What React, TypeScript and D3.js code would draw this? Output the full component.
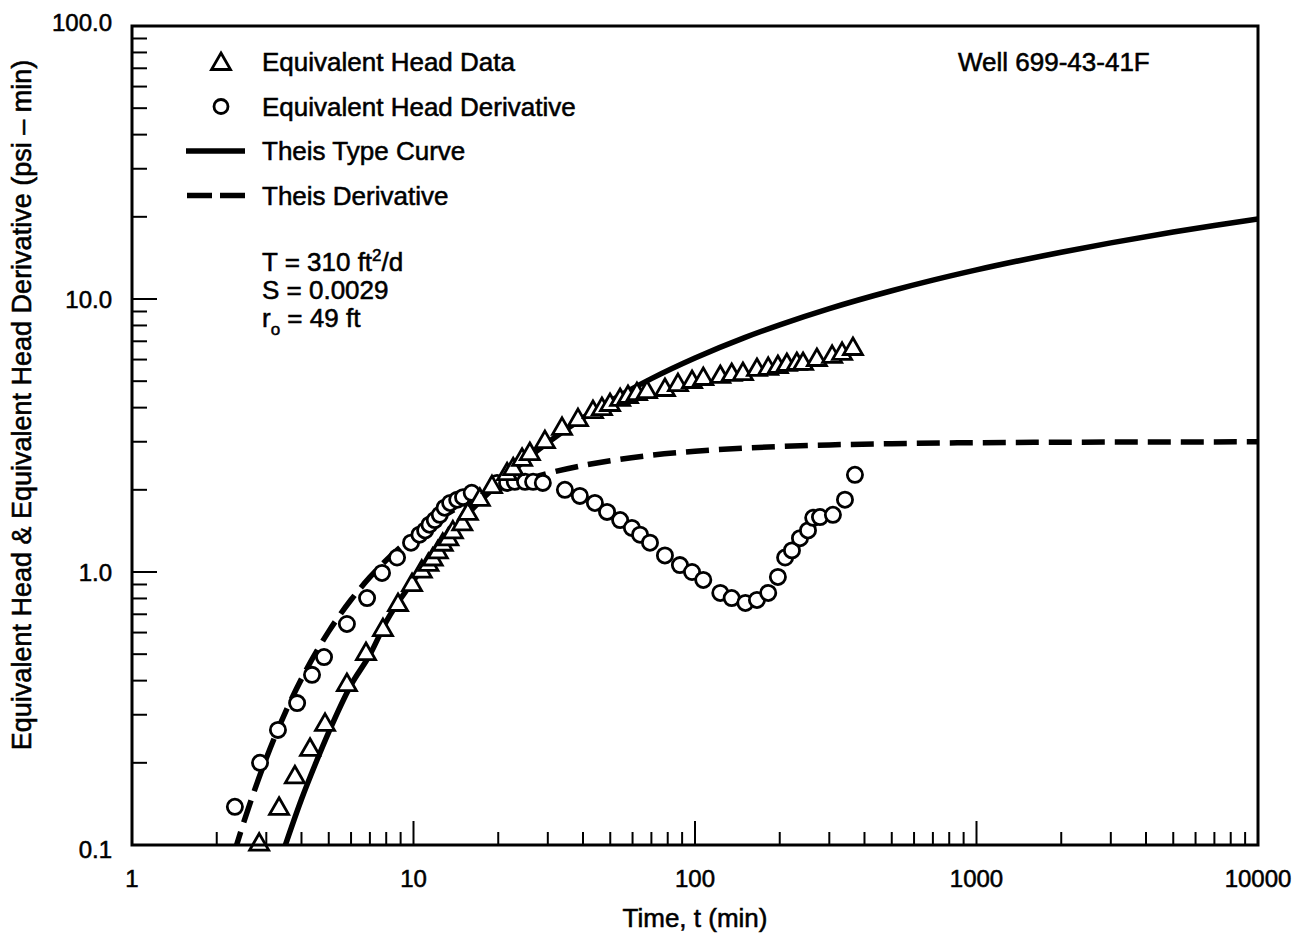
import React from 'react';
import * as d3 from 'd3';

// Canvas and plot frame
const WIDTH = 1309;
const HEIGHT = 934;
const PLOT = { left: 132, right: 1258, top: 26, bottom: 845 };
const FONT = '"Liberation Sans", Arial, Helvetica, sans-serif';

// Axis definitions
const timeDomain: [number, number] = [1, 10000];
const headDomain: [number, number] = [0.1, 100];
const timeTickValues = [1, 10, 100, 1000, 10000];
const timeTickLabels = ['1', '10', '100', '1000', '10000'];
const headTickValues = [0.1, 1, 10, 100];
const headTickLabels = ['0.1', '1.0', '10.0', '100.0'];

// Equivalent head data, [time (min), head (psi-min)]
const headData: [number, number][] = [
  [2.83, 0.102], [3.33, 0.138], [3.79, 0.18], [4.29, 0.227], [4.85, 0.28],
  [5.8, 0.392], [6.78, 0.509], [7.79, 0.623], [8.81, 0.77], [9.88, 0.911],
  [10.7, 1.02], [11.3, 1.08], [11.7, 1.13], [12.2, 1.2], [12.7, 1.28],
  [13.3, 1.34], [13.8, 1.42], [14.9, 1.52], [15.6, 1.66], [17.2, 1.87],
  [19.0, 2.08], [21.5, 2.32], [22.6, 2.42], [24.3, 2.62], [25.9, 2.75],
  [29.3, 3.04], [33.7, 3.4], [38.4, 3.66], [43.4, 3.92], [46.7, 4.02],
  [49.9, 4.16], [54.2, 4.34], [57.8, 4.45], [62.2, 4.56], [67.5, 4.64],
  [78.2, 4.72], [87.0, 4.92], [97.6, 5.05], [107, 5.18], [123, 5.27],
  [135, 5.36], [148, 5.4], [166, 5.59], [182, 5.64], [197, 5.73],
  [212, 5.83], [230, 5.88], [242, 5.88], [271, 6.08], [307, 6.24],
  [333, 6.4], [364, 6.67],
];

// Equivalent head derivative, [time (min), derivative (psi-min)]
const derivData: [number, number][] = [
  [2.32, 0.138], [2.85, 0.2], [3.3, 0.264], [3.86, 0.331], [4.36, 0.42],
  [4.81, 0.488], [5.8, 0.645], [6.84, 0.803], [7.73, 0.992], [8.74, 1.13],
  [9.8, 1.28], [10.5, 1.37], [11.0, 1.42], [11.4, 1.49], [11.9, 1.55],
  [12.4, 1.62], [12.9, 1.72], [13.5, 1.79], [14.3, 1.84], [15.0, 1.88],
  [16.1, 1.95], [19.8, 2.12], [21.5, 2.12], [22.9, 2.14], [24.9, 2.14],
  [26.6, 2.14], [28.8, 2.12], [34.5, 2.0], [39.0, 1.9], [44.1, 1.79],
  [48.7, 1.66], [54.2, 1.55], [59.7, 1.45], [63.8, 1.37], [69.2, 1.28],
  [78.2, 1.15], [88.4, 1.06], [97.6, 1.0], [107, 0.935], [123, 0.838],
  [135, 0.803], [151, 0.77], [166, 0.79], [182, 0.838], [197, 0.959],
  [209, 1.13], [221, 1.2], [236, 1.33], [252, 1.42], [263, 1.58],
  [278, 1.59], [309, 1.62], [341, 1.84], [370, 2.27],
];

// Theis type curve, [time (min), head (psi-min)]
const theisCurve: [number, number][] = [
  [3.5, 0.0994], [4, 0.147], [4.5, 0.2], [5, 0.259], [6, 0.386], [7, 0.498],
  [8, 0.658], [10, 0.932], [12, 1.196], [15, 1.564], [20, 2.107], [25, 2.57],
  [30, 2.98], [40, 3.67], [50, 4.23], [70, 5.11], [100, 6.08], [150, 7.22],
  [200, 8.04], [300, 9.22], [500, 10.72], [700, 11.72], [1000, 12.78],
  [2000, 14.84], [3000, 16.06], [5000, 17.59], [7000, 18.59], [10000, 19.66],
];

// Theis derivative, [time (min), derivative (psi-min)]
const theisDeriv: [number, number][] = [
  [2.3, 0.0927], [2.5, 0.122], [3, 0.208], [3.5, 0.305], [4, 0.406],
  [5, 0.606], [6, 0.791], [7, 0.957], [8, 1.104], [10, 1.348], [12, 1.54],
  [15, 1.76], [20, 2.011], [25, 2.178], [30, 2.298], [40, 2.456], [50, 2.556],
  [70, 2.676], [100, 2.769], [150, 2.844], [200, 2.882], [300, 2.921],
  [500, 2.952], [1000, 2.976], [2000, 2.988], [5000, 2.995], [10000, 2.998],
];

const legendItems = [
  { kind: 'triangle', label: 'Equivalent Head Data' },
  { kind: 'circle', label: 'Equivalent Head Derivative' },
  { kind: 'solid', label: 'Theis Type Curve' },
  { kind: 'dashed', label: 'Theis Derivative' },
];

const wellName = 'Well 699-43-41F';

const trianglePath = 'M0,-9L9.5,7.5L-9.5,7.5Z';

// Light outline that gives the lettering a slightly heavier weight
const textInk = { fill: '#000', stroke: '#000', strokeWidth: 0.55 };

export default function App() {
  const x = d3.scaleLog().domain(timeDomain).range([PLOT.left, PLOT.right]);
  const y = d3.scaleLog().domain(headDomain).range([PLOT.bottom, PLOT.top]);

  const line = d3
    .line<[number, number]>()
    .x((d) => x(d[0]))
    .y((d) => y(d[1]))
    .curve(d3.curveMonotoneX);

  const xTicks = x.ticks();
  const yTicks = y.ticks();
  const isMajor = (v: number) => Math.abs(Math.log10(v) - Math.round(Math.log10(v))) < 1e-9;

  return (
    <svg
      width={WIDTH}
      height={HEIGHT}
      viewBox={`0 0 ${WIDTH} ${HEIGHT}`}
      style={{ position: 'absolute', left: 0, top: 0, background: '#fff' }}
      fontFamily={FONT}
    >
      <rect x={0} y={0} width={WIDTH} height={HEIGHT} fill="#fff" />
      <defs>
        <clipPath id="plot-clip">
          <rect x={PLOT.left} y={PLOT.top} width={PLOT.right - PLOT.left} height={PLOT.bottom - PLOT.top} />
        </clipPath>
      </defs>

      {/* Theis curves */}
      <g clipPath="url(#plot-clip)" fill="none" stroke="#000">
        <path d={line(theisCurve) || ''} strokeWidth={5.5} />
        <path d={line(theisDeriv) || ''} strokeWidth={5.5} strokeDasharray="23 10" />
      </g>

      {/* Derivative points */}
      <g fill="#fff" stroke="#000" strokeWidth={2.8}>
        {derivData.map((d, i) => (
          <circle key={i} cx={x(d[0])} cy={y(d[1])} r={7.6} />
        ))}
      </g>

      {/* Head data points */}
      <g fill="#fff" stroke="#000" strokeWidth={2.8} strokeLinejoin="miter">
        {headData.map((d, i) => (
          <path key={i} d={trianglePath} transform={`translate(${x(d[0])},${y(d[1])})`} />
        ))}
      </g>

      {/* Ticks (inward, left and bottom only) */}
      <g stroke="#000" strokeWidth={2}>
        {xTicks.map((v, i) => {
          const len = isMajor(v) ? 24 : 13;
          return <line key={`xt${i}`} x1={x(v)} x2={x(v)} y1={PLOT.bottom} y2={PLOT.bottom - len} />;
        })}
        {yTicks.map((v, i) => {
          const len = isMajor(v) ? 25 : 15;
          return <line key={`yt${i}`} x1={PLOT.left} x2={PLOT.left + len} y1={y(v)} y2={y(v)} />;
        })}
      </g>

      {/* Frame */}
      <rect
        x={PLOT.left}
        y={PLOT.top}
        width={PLOT.right - PLOT.left}
        height={PLOT.bottom - PLOT.top}
        fill="none"
        stroke="#000"
        strokeWidth={3}
      />

      {/* Tick labels */}
      <g fontSize={24} {...textInk}>
        {timeTickValues.map((v, i) => (
          <text key={`xl${i}`} x={x(v)} y={PLOT.bottom + 42} textAnchor="middle">
            {timeTickLabels[i]}
          </text>
        ))}
        {headTickValues.map((v, i) => {
          const shift = i === 0 ? 4 : i === headTickValues.length - 1 ? -4 : 0;
          return (
            <text key={`yl${i}`} x={PLOT.left - 20} y={y(v) + shift} dy="0.36em" textAnchor="end">
              {headTickLabels[i]}
            </text>
          );
        })}
      </g>

      {/* Axis titles */}
      <text x={695} y={927} fontSize={26} textAnchor="middle" {...textInk}>
        Time, t (min)
      </text>
      <text transform="translate(31,405) rotate(-90)" fontSize={27} textAnchor="middle" {...textInk}>
        Equivalent Head &amp; Equivalent Head Derivative (psi – min)
      </text>

      {/* Legend */}
      <g fontSize={26}>
        {legendItems.map((item, i) => {
          const cy = 62 + i * 44.5;
          return (
            <g key={item.label}>
              {item.kind === 'triangle' && (
                <path d={trianglePath} transform={`translate(221,${cy})`} fill="#fff" stroke="#000" strokeWidth={2.8} />
              )}
              {item.kind === 'circle' && (
                <circle cx={221} cy={cy} r={7} fill="#fff" stroke="#000" strokeWidth={2.8} />
              )}
              {item.kind === 'solid' && (
                <line x1={186} x2={245} y1={cy} y2={cy} stroke="#000" strokeWidth={5.5} />
              )}
              {item.kind === 'dashed' && (
                <line x1={187} x2={245} y1={cy} y2={cy} stroke="#000" strokeWidth={5.5} strokeDasharray="25 8" />
              )}
              <text x={262} y={cy} dy="0.36em" {...textInk}>
                {item.label}
              </text>
            </g>
          );
        })}
      </g>

      {/* Fit parameters */}
      <g fontSize={26} {...textInk}>
        <text x={262} y={262} dy="0.36em">
          T = 310 ft<tspan dy={-10} fontSize={17}>2</tspan>
          <tspan dy={10}>/d</tspan>
        </text>
        <text x={262} y={290} dy="0.36em">
          S = 0.0029
        </text>
        <text x={262} y={318} dy="0.36em">
          r<tspan dy={8} fontSize={17}>o</tspan>
          <tspan dy={-8}> = 49 ft</tspan>
        </text>
      </g>

      <text x={958} y={62} dy="0.36em" fontSize={26} {...textInk}>
        {wellName}
      </text>
    </svg>
  );
}
